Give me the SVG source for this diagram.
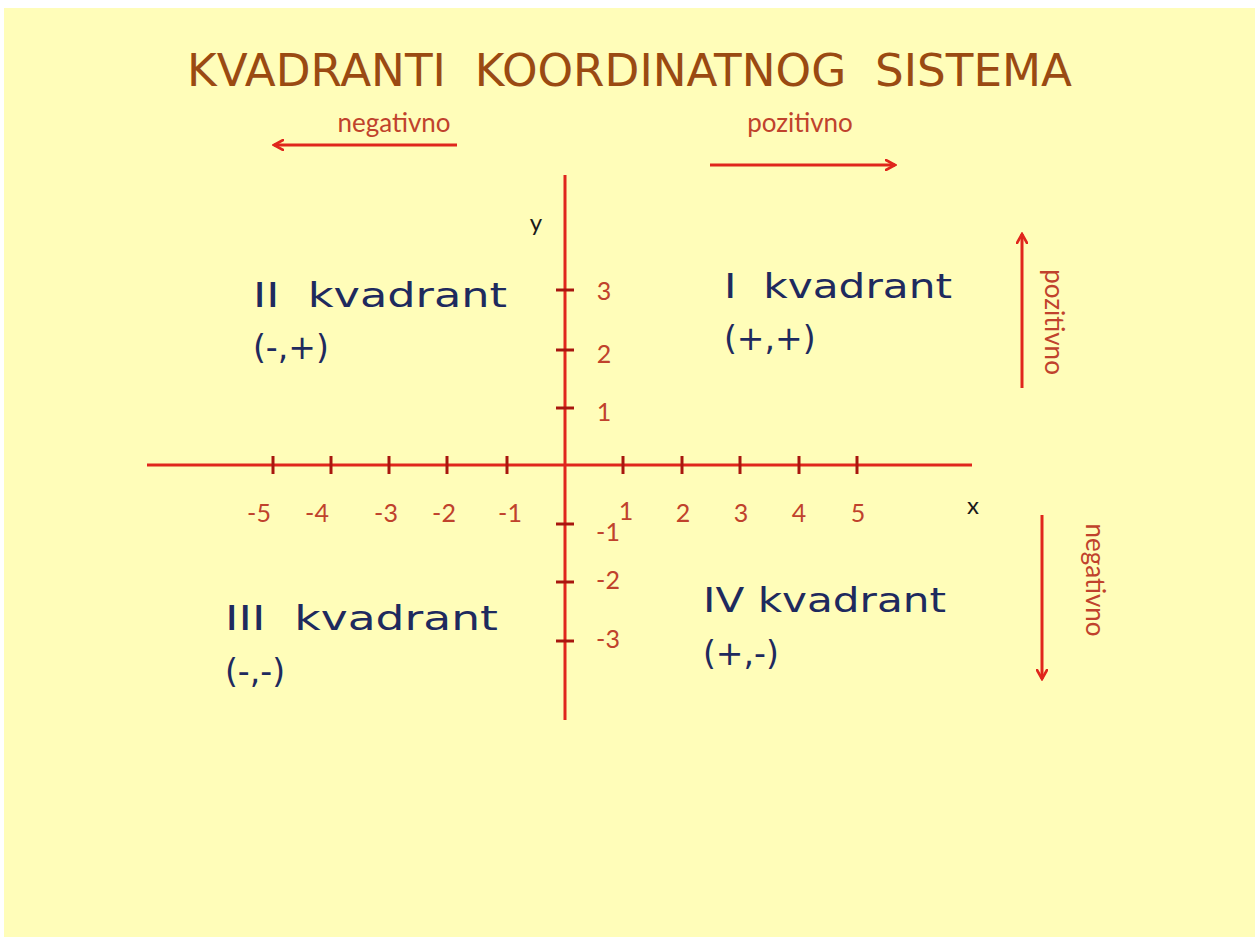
<svg xmlns="http://www.w3.org/2000/svg" width="1255" height="939" viewBox="0 0 1255 939">
<defs>
<style>
text{white-space:pre}
.title{font-family:"DejaVu Sans",sans-serif;font-size:44px;fill:#9A4A12}
.quad{font-family:"DejaVu Sans",sans-serif;font-size:33px;fill:#1E2A5E}
.num{font-family:Lato,"Liberation Sans",sans-serif;font-size:25px;fill:#C0422C}
.dir{font-family:Lato,"Liberation Sans",sans-serif;font-size:26px;fill:#C0422C}
.ax{font-family:Lato,"Liberation Sans",sans-serif;font-size:24px;fill:#1a1a1a}
.axis{stroke:#E0261C;stroke-width:3;fill:none}
.tick{stroke:#A8160F;stroke-width:3}
.arr{stroke:#E0261C;stroke-width:3;fill:none}
</style>
<marker id="ah" viewBox="0 0 12 12" refX="10" refY="6" markerWidth="12" markerHeight="12" markerUnits="userSpaceOnUse" orient="auto">
<path d="M1,1 L10,6 L1,11" fill="none" stroke="#E0261C" stroke-width="2.6" stroke-linecap="round"/>
</marker>
</defs>
<rect x="0" y="0" width="1255" height="939" fill="#ffffff"/>
<rect x="4" y="8" width="1251" height="929" fill="#FFFDB9"/>
<g id="title"><text class="title" x="187" y="86" textLength="885" lengthAdjust="spacingAndGlyphs" xml:space="preserve">KVADRANTI  KOORDINATNOG  SISTEMA</text></g>
<g id="connectors">
<line class="axis" x1="147" y1="465" x2="972" y2="465"/>
<line class="axis" x1="565" y1="175" x2="565" y2="720"/>
<g>
<line class="tick" x1="273" y1="456" x2="273" y2="474"/>
<line class="tick" x1="331" y1="456" x2="331" y2="474"/>
<line class="tick" x1="389" y1="456" x2="389" y2="474"/>
<line class="tick" x1="447" y1="456" x2="447" y2="474"/>
<line class="tick" x1="507" y1="456" x2="507" y2="474"/>
<line class="tick" x1="623" y1="456" x2="623" y2="474"/>
<line class="tick" x1="682" y1="456" x2="682" y2="474"/>
<line class="tick" x1="740" y1="456" x2="740" y2="474"/>
<line class="tick" x1="799" y1="456" x2="799" y2="474"/>
<line class="tick" x1="857" y1="456" x2="857" y2="474"/>
<line class="tick" x1="556" y1="290" x2="574" y2="290"/>
<line class="tick" x1="556" y1="350" x2="574" y2="350"/>
<line class="tick" x1="556" y1="408" x2="574" y2="408"/>
<line class="tick" x1="556" y1="524" x2="574" y2="524"/>
<line class="tick" x1="556" y1="582" x2="574" y2="582"/>
<line class="tick" x1="556" y1="641" x2="574" y2="641"/>
</g>
<line class="arr" x1="457" y1="145" x2="274" y2="145" marker-end="url(#ah)"/>
<line class="arr" x1="710" y1="165" x2="895" y2="165" marker-end="url(#ah)"/>
<line class="arr" x1="1022" y1="388" x2="1022" y2="234" marker-end="url(#ah)"/>
<line class="arr" x1="1042" y1="515" x2="1042" y2="679" marker-end="url(#ah)"/>
</g>
<g id="axis-labels">
<text class="ax" x="536" y="231" text-anchor="middle">y</text>
<text class="ax" x="973" y="514" text-anchor="middle">x</text>
</g>
<g id="x-numbers">
<text class="num" x="259" y="522" text-anchor="middle">-5</text>
<text class="num" x="317" y="522" text-anchor="middle">-4</text>
<text class="num" x="386" y="522" text-anchor="middle">-3</text>
<text class="num" x="444" y="522" text-anchor="middle">-2</text>
<text class="num" x="510" y="522" text-anchor="middle">-1</text>
<text class="num" x="626" y="520" text-anchor="middle">1</text>
<text class="num" x="683" y="522" text-anchor="middle">2</text>
<text class="num" x="741" y="522" text-anchor="middle">3</text>
<text class="num" x="799" y="522" text-anchor="middle">4</text>
<text class="num" x="858" y="522" text-anchor="middle">5</text>
</g>
<g id="y-numbers">
<text class="num" x="604" y="300" text-anchor="middle">3</text>
<text class="num" x="604" y="363" text-anchor="middle">2</text>
<text class="num" x="604" y="421" text-anchor="middle">1</text>
<text class="num" x="608" y="541" text-anchor="middle">-1</text>
<text class="num" x="608" y="589" text-anchor="middle">-2</text>
<text class="num" x="608" y="648" text-anchor="middle">-3</text>
</g>
<g id="direction-labels">
<text class="dir" x="394" y="132" text-anchor="middle">negativno</text>
<text class="dir" x="800" y="132" text-anchor="middle">pozitivno</text>
<text class="dir" transform="translate(1045,322) rotate(90)" text-anchor="middle">pozitivno</text>
<text class="dir" transform="translate(1086,580) rotate(90)" text-anchor="middle">negativno</text>
</g>
<g id="quadrant-II">
<text class="quad" x="253" y="307" textLength="254" lengthAdjust="spacingAndGlyphs" xml:space="preserve">II  kvadrant</text>
<text class="quad" x="253" y="359">(-,+)</text>
</g>
<g id="quadrant-I">
<text class="quad" x="724" y="298" textLength="228" lengthAdjust="spacingAndGlyphs" xml:space="preserve">I  kvadrant</text>
<text class="quad" x="724" y="350">(+,+)</text>
</g>
<g id="quadrant-III">
<text class="quad" x="225" y="630" textLength="273" lengthAdjust="spacingAndGlyphs" xml:space="preserve">III  kvadrant</text>
<text class="quad" x="225" y="683">(-,-)</text>
</g>
<g id="quadrant-IV">
<text class="quad" x="703" y="612" textLength="243" lengthAdjust="spacingAndGlyphs">IV kvadrant</text>
<text class="quad" x="703" y="665">(+,-)</text>
</g>
</svg>
